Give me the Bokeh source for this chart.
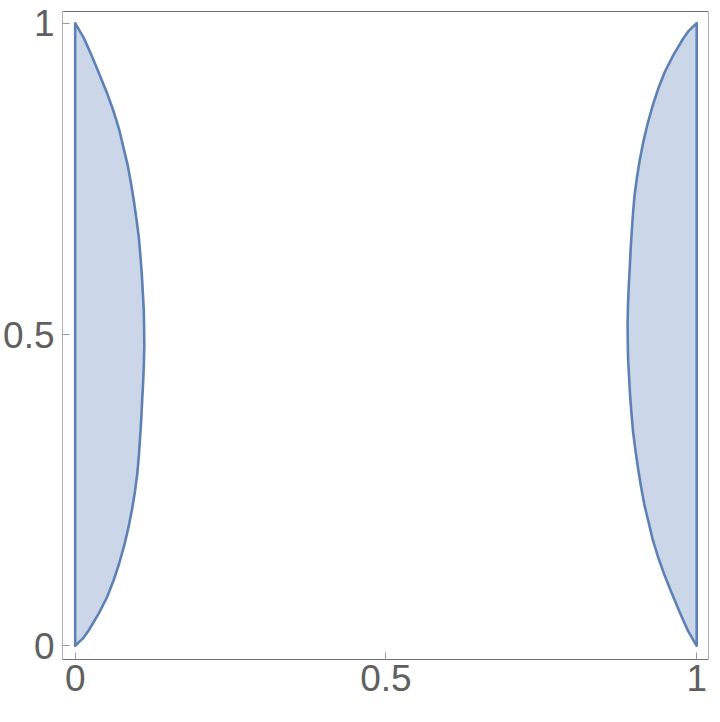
from bokeh.plotting import figure
from bokeh.models import Range1d, FixedTicker, LinearAxis
from bokeh.embed import file_html
from bokeh.resources import INLINE

# Left region: boundary curve (y from top to bottom)
left_y = [1.0, 0.976, 0.946, 0.917, 0.888, 0.859, 0.830, 0.801, 0.772, 0.743, 0.714,
          0.684, 0.655, 0.626, 0.597, 0.568, 0.539, 0.510, 0.481, 0.451, 0.422,
          0.393, 0.364, 0.335, 0.306, 0.2767, 0.2475, 0.218, 0.189, 0.160, 0.131,
          0.1045, 0.078, 0.0516, 0.025, 0.0119, 0.0]
left_x = [0.0, 0.014, 0.0273, 0.0394, 0.0512, 0.0616, 0.0706, 0.0775, 0.0845, 0.0898, 0.0945,
          0.0988, 0.1025, 0.105, 0.1072, 0.1088, 0.1104, 0.1109, 0.1112, 0.1105, 0.1093,
          0.1077, 0.1063, 0.1045, 0.1025, 0.1000, 0.0961, 0.0913, 0.0855, 0.0786, 0.0704,
          0.0616, 0.0512, 0.0378, 0.0219, 0.0125, 0.0]

# Right region: boundary curve (y from bottom to top)
right_y = [0.0, 0.024, 0.054, 0.083, 0.112, 0.141, 0.170, 0.199, 0.228, 0.257, 0.286,
           0.316, 0.345, 0.374, 0.403, 0.432, 0.461, 0.490, 0.519, 0.549, 0.578,
           0.607, 0.636, 0.665, 0.694, 0.7233, 0.7525, 0.782, 0.811, 0.840, 0.869,
           0.8955, 0.922, 0.9484, 0.975, 0.9881, 1.0]
right_x = [1.0, 0.986, 0.9727, 0.9606, 0.9488, 0.9384, 0.9294, 0.9225, 0.9155, 0.9102, 0.9055,
           0.9012, 0.8975, 0.895, 0.8928, 0.8912, 0.8896, 0.8891, 0.8888, 0.8895, 0.8907,
           0.8923, 0.8937, 0.8955, 0.8975, 0.9, 0.9039, 0.9087, 0.9145, 0.9214, 0.9296,
           0.9384, 0.9488, 0.9622, 0.9781, 0.9875, 1.0]

x_ticks = [0, 0.5, 1]
y_ticks = [0, 0.5, 1]
tick_labels = {0: "0", 0.5: "0.5", 1: "1"}

FILL = "#cbd7e8"
EDGE = "#5e81b5"
LABEL = "#606060"

p = figure(width=712, height=714, output_backend="svg", toolbar_location=None,
           x_range=Range1d(-0.0204, 1.019), y_range=Range1d(-0.022, 1.0188),
           min_border_left=61, min_border_right=4, min_border_top=11, min_border_bottom=55)

p.patch(left_x, left_y, fill_color=FILL, fill_alpha=1.0, line_color=EDGE,
        line_width=2.6, line_join="round")
p.patch(right_x, right_y, fill_color=FILL, fill_alpha=1.0, line_color=EDGE,
        line_width=2.6, line_join="round")

p.grid.visible = False
p.outline_line_color = None
p.background_fill_color = "white"
p.border_fill_color = "white"

for ax, ticks, line_col in ((p.xaxis[0], x_ticks, "#707070"), (p.yaxis[0], y_ticks, "#b0b0b0")):
    ax.ticker = FixedTicker(ticks=ticks)
    ax.major_label_overrides = tick_labels
    ax.major_label_text_font = "Liberation Sans"
    ax.major_label_text_font_size = "37px"
    ax.major_label_text_color = LABEL
    ax.major_tick_in = 7
    ax.major_tick_out = 0
    ax.major_tick_line_color = "#999999"
    ax.minor_tick_line_color = None
    ax.axis_line_color = line_col
    ax.axis_line_width = 1
    ax.major_label_standoff = 5

p.yaxis[0].major_label_standoff = 8

top_axis = LinearAxis(ticker=FixedTicker(ticks=[]), axis_line_color="#707070",
                      major_tick_line_color=None, minor_tick_line_color=None,
                      major_label_text_font_size="0px")
right_axis = LinearAxis(ticker=FixedTicker(ticks=[]), axis_line_color="#b0b0b0",
                        major_tick_line_color=None, minor_tick_line_color=None,
                        major_label_text_font_size="0px")
p.add_layout(top_axis, "above")
p.add_layout(right_axis, "right")

open("out.html", "w").write(file_html(p, INLINE))
